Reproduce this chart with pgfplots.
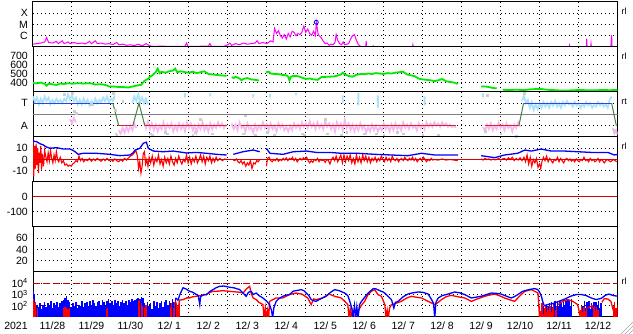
\documentclass[border=0pt]{standalone}
\usepackage{pgfplots}
\pgfplotsset{compat=1.18}
\usepackage{fontspec}
\setmainfont{Liberation Sans}
\definecolor{mag}{RGB}{255,0,255}
\definecolor{grn}{RGB}{0,235,0}
\definecolor{lblue}{RGB}{170,228,250}
\definecolor{lpink}{RGB}{248,184,240}
\definecolor{lgray}{RGB}{205,205,205}
\definecolor{stgreen}{RGB}{70,130,70}
\definecolor{stblue}{RGB}{60,60,230}
\definecolor{stred}{RGB}{210,40,40}
\definecolor{dred}{RGB}{190,0,0}
\newcommand\lbl{\fontsize{10.5}{12}\selectfont}
\begin{document}
\begin{tikzpicture}
\path[use as bounding box] (0pt,0pt) rectangle (633pt,334pt);
\pgfplotsset{
  panel/.style={
    scale only axis, width=584.5pt, height=45pt,
    xmin=0, xmax=15, anchor=north west, at={(33pt,#1)},
    xtick={1,2,...,14}, xticklabels={},
    xmajorgrids, ymajorgrids,
    major grid style={black, line width=1pt, dash pattern=on 1pt off 3pt},
    axis line style={black, line width=1pt},
    tick style={draw=none}, major tick length=0pt,
    yticklabel style={font=\lbl, anchor=east, inner sep=0pt, xshift=-5pt},
    xticklabel style={font=\lbl},
    unbounded coords=jump,
  },
}
% ---------------- Panel 1: X-ray ----------------
\begin{axis}[panel=332pt, ymin=0, ymax=4, ytick={1,2,3}, yticklabels={C,M,X}]
\addplot[mag, line width=1pt] table[row sep=\\]{
0 0.25\\ 0.1 0.3\\ 0.2 0.35\\ 0.3 0.45\\ 0.35 0.85\\ 0.4 0.4\\ 0.5 0.35\\ 0.6 0.5\\ 0.65 0.3\\ 0.75 0.55\\ 0.8 0.3\\ 0.9 0.45\\ 0.95 0.3\\ 1.05 0.4\\ 1.15 0.3\\ 1.25 0.35\\ 1.35 0.28\\ 1.45 0.5\\ 1.5 0.3\\ 1.6 0.55\\ 1.65 0.3\\ 1.75 0.35\\ 1.85 0.25\\ 1.95 0.3\\ 2.05 0.22\\ 2.15 0.4\\ 2.2 0.2\\ 2.3 0.25\\ 2.4 0.15\\ 2.5 0.2\\ 2.6 0.12\\ 2.7 0.25\\ 2.8 0.1\\ 2.9 0.3\\ 3.0 0.1\\ 3.1 0.05\\ 3.3 0.08\\ 3.5 0.05\\ 3.7 0.06\\ 3.9 0.05\\ 3.94 0.35\\ 3.98 0.05\\ 4.2 0.06\\ 4.5 0.08\\ 4.54 0.3\\ 4.58 0.05\\ 4.9 0.06\\ 5.0 0.2\\ 5.05 0.35\\ 5.1 0.15\\ 5.2 0.3\\ 5.3 0.2\\ 5.4 0.35\\ 5.5 0.25\\ 5.6 0.3\\ 5.7 0.35\\ 5.75 0.55\\ 5.8 0.3\\ 5.9 0.4\\ 6.0 0.3\\ 6.1 0.55\\ 6.16 0.45\\ 6.2 1.65\\ 6.25 1.2\\ 6.3 1.45\\ 6.35 1.0\\ 6.4 0.8\\ 6.45 1.1\\ 6.5 0.7\\ 6.55 1.2\\ 6.6 0.9\\ 6.65 1.4\\ 6.7 1.3\\ 6.75 1.0\\ 6.8 1.2\\ 6.85 1.1\\ 6.9 1.3\\ 6.95 1.85\\ 7.0 1.3\\ 7.05 1.6\\ 7.1 1.2\\ 7.15 1.05\\ 7.2 1.4\\ 7.25 1.0\\ 7.27 2.2\\ 7.32 1.1\\ 7.4 0.8\\ 7.45 0.5\\ 7.5 0.3\\ 7.55 0.35\\ 7.6 0.15\\ 7.65 0.25\\ 7.7 0.2\\ 7.75 0.4\\ 7.78 1.1\\ 7.82 0.6\\ 7.87 0.3\\ 7.92 0.2\\ 7.96 0.45\\ 8.0 0.2\\ 8.1 0.3\\ 8.15 0.7\\ 8.2 1.0\\ 8.25 1.1\\ 8.3 0.6\\ 8.35 0.2\\ 8.4 0.1\\ nan nan\\ 8.54 0\\ 8.55 0.55\\ 8.56 0\\ nan nan\\ 8.72 0\\ 8.73 0.1\\ 8.74 0\\ nan nan\\ 9.74 0\\ 9.75 0.2\\ 9.76 0\\ nan nan\\ 13.76 0\\ 13.77 0.15\\ 13.78 0\\ nan nan\\ 14.2 0\\ 14.21 0.75\\ 14.22 0\\ nan nan\\ 14.31 0\\ 14.32 0.3\\ 14.33 0\\ nan nan\\ 14.83 0\\ 14.84 0.6\\ 14.85 1.05\\ 14.86 0\\
};
\addplot[blue, only marks, mark=o, mark size=2pt, mark options={line width=0.8pt}] coordinates {(7.27,2.2)};
\end{axis}
% ---------------- Panel 2: speed ----------------
\begin{axis}[panel=287pt, ymin=300, ymax=800, ytick={400,500,600,700}, yticklabels={400,500,600,700}]
\addplot[grn, line width=1.8pt] table[row sep=\\]{
0 400\\ 0.1 395\\ 0.2 405\\ 0.3 390\\ 0.35 370\\ 0.4 392\\ 0.5 385\\ 0.6 378\\ 0.7 395\\ 0.8 388\\ 0.9 398\\ 1.0 392\\ 1.1 396\\ 1.2 398\\ 1.3 393\\ 1.4 398\\ 1.5 395\\ 1.6 382\\ 1.7 386\\ 1.8 384\\ 1.9 372\\ 1.95 362\\ 2.05 362\\ 2.1 358\\ 2.3 355\\ 2.45 350\\ 2.5 356\\ 2.6 365\\ 2.7 375\\ 2.78 380\\ 2.85 420\\ 2.9 435\\ 2.95 445\\ 3.0 470\\ 3.05 480\\ 3.1 500\\ 3.15 520\\ 3.2 560\\ 3.25 510\\ 3.3 525\\ 3.4 515\\ 3.5 530\\ 3.6 540\\ 3.65 560\\ 3.7 520\\ 3.8 530\\ 3.9 520\\ 4.0 515\\ 4.1 525\\ 4.2 510\\ 4.3 520\\ 4.4 530\\ 4.5 500\\ 4.6 495\\ 4.7 490\\ 4.8 485\\ 4.97 480\\ nan nan\\ 5.1 465\\ 5.15 455\\ 5.2 470\\ 5.3 450\\ 5.35 430\\ 5.4 445\\ 5.5 455\\ 5.6 440\\ 5.7 435\\ 5.8 428\\ nan nan\\ 5.98 520\\ 6.05 525\\ 6.1 505\\ 6.2 500\\ 6.3 498\\ 6.4 490\\ 6.5 485\\ 6.55 470\\ 6.58 430\\ 6.62 470\\ 6.7 480\\ 6.8 475\\ 6.9 460\\ 7.0 445\\ 7.1 450\\ 7.2 440\\ 7.3 435\\ 7.4 465\\ 7.5 468\\ 7.6 470\\ 7.7 472\\ 7.8 480\\ 7.9 495\\ 7.95 515\\ 8.0 495\\ 8.1 478\\ 8.2 470\\ 8.3 490\\ 8.4 500\\ 8.5 498\\ 8.6 505\\ 8.7 500\\ 8.8 510\\ 8.9 505\\ 9.0 500\\ 9.1 510\\ 9.2 505\\ 9.3 515\\ 9.4 520\\ 9.5 525\\ 9.6 495\\ 9.7 485\\ 9.8 475\\ 9.9 448\\ 10.0 440\\ 10.2 430\\ 10.3 420\\ 10.4 430\\ 10.5 445\\ 10.6 420\\ 10.7 412\\ 10.8 405\\ 10.9 390\\ nan nan\\ 11.5 360\\ 11.6 362\\ 11.7 355\\ 11.8 345\\ 11.9 340\\ nan nan\\ 12.05 325\\ 12.2 322\\ 12.4 325\\ 12.6 322\\ 12.8 330\\ 13.0 335\\ 13.2 325\\ 13.4 320\\ 13.6 315\\ 13.8 318\\ 14.0 322\\ 14.2 320\\ 14.4 318\\ 14.6 322\\ 14.8 320\\ 15.0 322\\
};
\end{axis}
% ---------------- Panel 3: T / A ----------------
\begin{axis}[panel=242pt, ymin=0, ymax=4, ytick={1,3}, yticklabels={A,T}]
\addplot[lgray, only marks, mark=square*, mark size=0.9pt] table[row sep=\\]{
2.05 3.9\\ 2.07 3.5\\ 2.1 2.4\\ 2.12 0.3\\ 2.15 0.2\\ 2.3 3.2\\ 3.4 0.4\\ 3.45 0.3\\ 4.1 0.2\\ 4.15 0.4\\ 4.3 1.6\\ 5.4 0.3\\ 5.45 1.9\\ 6.0 0.4\\ 6.2 0.2\\ 6.9 0.3\\ 6.95 0.2\\ 7.5 1.6\\ 7.55 0.3\\ 8.05 0.4\\ 8.5 0.3\\ 9.0 0.2\\ 9.35 0.4\\ 9.5 0.3\\ 10.0 0.2\\ 11.6 0.5\\ 11.65 3.7\\ 12.0 0.3\\ 12.4 0.1\\ 12.6 3.9\\ 14.9 0.6\\ 1.5 2.9\\ 0.8 3.8\\ 1.0 3.9\\ 1.05 2.3\\ 1.1 2.1\\ 3.0 0.3\\ 3.05 0.2\\ 4.6 0.3\\ 5.7 0.2\\ 7.9 0.2\\ 8.8 0.3\\ 10.4 0.2\\
};
\addplot[lblue, line width=1.8pt] table[row sep=\\]{
0.00 3.6\\ 0.05 3.1\\ 0.10 3.5\\ 0.15 2.9\\ 0.20 3.4\\ 0.25 3.0\\ 0.30 3.6\\ 0.35 3.2\\ 0.40 3.5\\ 0.45 2.9\\ 0.50 3.3\\ 0.55 3.0\\ 0.60 3.4\\ 0.65 3.1\\ 0.70 3.3\\ 0.75 3.0\\ 0.80 3.4\\ 0.85 3.2\\ 0.90 3.8\\ 0.95 3.3\\ 1.00 3.7\\ 1.05 3.2\\ 1.10 3.5\\ 1.15 2.9\\ 1.20 3.3\\ 1.25 2.9\\ 1.30 3.4\\ 1.35 3.0\\ 1.40 3.3\\ 1.45 2.8\\ 1.50 3.2\\ 1.55 2.9\\ 1.60 3.4\\ 1.65 3.0\\ 1.70 3.3\\ 1.75 3.1\\ 1.80 3.5\\ 1.85 3.2\\ 1.90 3.6\\ 1.95 3.1\\ 2.00 3.4\\ 2.05 3.2\\ 2.10 3.7\\ nan nan\\
2.55 3.0\\ 2.60 3.6\\ 2.65 3.2\\ 2.70 3.8\\ 2.75 3.1\\ 2.80 3.5\\ 2.85 3.0\\ 2.90 3.4\\ 2.95 2.9\\ nan nan\\
3.9 3.5\\ 3.9 3.9\\ nan nan\\ 4.55 3.6\\ 4.55 3.9\\ nan nan\\ 5.65 3.5\\ 5.65 3.8\\ nan nan\\ 6.08 3.5\\ 6.08 3.8\\ nan nan\\ 6.75 3.7\\ 6.75 3.9\\ nan nan\\ 7.95 3.0\\ 7.95 3.7\\ nan nan\\ 8.35 2.8\\ 8.35 3.9\\ nan nan\\ 8.85 2.6\\ 8.85 3.7\\ nan nan\\ 10.05 2.8\\ 10.05 3.6\\ nan nan\\ 11.55 3.5\\ 11.55 3.9\\ nan nan\\
12.55 3.2\\ 12.60 3.7\\ 12.65 3.0\\ 12.70 3.3\\ 12.75 2.6\\ 12.80 3.1\\ 12.85 2.4\\ 12.90 2.9\\ 12.95 2.5\\ 13.00 3.0\\ 13.05 2.6\\ 13.10 3.1\\ 13.15 2.7\\ 13.20 3.0\\ 13.25 2.6\\ 13.30 3.1\\ 13.35 2.8\\ 13.40 3.2\\ 13.45 2.7\\ 13.50 3.0\\ 13.55 2.6\\ 13.60 3.1\\ 13.65 2.8\\ 13.70 3.2\\ 13.75 2.9\\ 13.80 3.0\\ 13.85 2.7\\ 13.90 3.1\\ 13.95 2.8\\ 14.00 3.0\\ 14.05 2.6\\ 14.10 2.9\\ 14.15 2.7\\ 14.20 3.1\\ 14.25 2.8\\ 14.30 3.0\\ 14.35 2.6\\ 14.40 2.9\\ 14.45 2.7\\ 14.50 3.1\\ 14.55 2.8\\ 14.60 3.0\\ 14.65 2.7\\ 14.70 2.9\\ 14.75 2.6\\ 14.80 3.3\\ 14.85 3.6\\
};
\addplot[lpink, line width=1.8pt] table[row sep=\\]{
0.95 1.6\\ 1.0 1.2\\ 1.05 1.7\\ 1.1 1.3\\ nan nan\\
2.20 0.6\\ 2.25 0.3\\ 2.30 0.8\\ 2.35 0.4\\ 2.40 0.9\\ 2.45 0.5\\ 2.50 1.0\\ 2.55 0.6\\ 2.60 1.2\\ 2.65 0.8\\ nan nan\\
2.85 1.3\\ 2.9 0.8\\ 2.95 1.4\\ 3.0 0.7\\ 3.05 1.2\\ 3.1 0.6\\ 3.15 1.1\\ 3.2 0.5\\ 3.25 1.0\\ 3.3 0.7\\ 3.35 1.3\\ 3.4 0.6\\ 3.45 1.1\\ 3.5 0.8\\ 3.55 1.2\\ 3.6 0.5\\ 3.65 1.0\\ 3.7 0.6\\ 3.75 1.2\\ 3.8 0.7\\ 3.85 1.1\\ 3.9 0.5\\ 3.95 1.3\\ 4.0 0.8\\ 4.05 1.2\\ 4.1 0.6\\ 4.15 1.0\\ 4.2 0.4\\ 4.25 1.1\\ 4.3 0.7\\ 4.35 1.3\\ 4.4 0.6\\ 4.45 1.0\\ 4.5 0.5\\ 4.55 1.2\\ 4.6 0.7\\ 4.65 1.1\\ 4.7 0.8\\ 4.75 1.3\\ 4.8 0.9\\ 4.85 1.2\\ 4.9 0.8\\ 4.95 1.1\\ nan nan\\
5.10 1.2\\ 5.15 0.7\\ 5.20 1.1\\ 5.25 0.6\\ 5.30 1.3\\ 5.35 0.8\\ 5.40 1.0\\ 5.45 0.5\\ 5.50 1.2\\ 5.55 0.7\\ 5.60 0.9\\ 5.65 0.4\\ 5.70 1.1\\ 5.75 0.6\\ 5.80 1.0\\ 5.85 0.7\\ 5.90 1.3\\ 5.95 0.8\\ 6.00 1.1\\ 6.05 0.6\\ 6.10 1.2\\ 6.15 0.7\\ 6.20 1.0\\ 6.25 0.5\\ 6.30 1.2\\ 6.35 0.8\\ 6.40 1.1\\ 6.45 0.6\\ 6.50 0.9\\ 6.55 0.5\\ 6.60 1.0\\ 6.65 0.6\\ 6.70 1.2\\ 6.75 0.8\\ 6.80 1.1\\ 6.85 0.7\\ 6.90 1.3\\ 6.95 0.9\\ 7.00 1.2\\ 7.05 0.8\\ 7.10 1.4\\ 7.15 0.9\\ 7.20 1.2\\ 7.25 0.7\\ 7.30 1.3\\ 7.35 0.8\\ 7.40 1.1\\ 7.45 0.7\\ 7.50 1.4\\ 7.55 0.9\\ 7.60 1.2\\ 7.65 0.7\\ 7.70 1.1\\ 7.75 0.5\\ 7.80 1.3\\ 7.85 0.8\\ 7.90 1.2\\ 7.95 0.6\\ 8.00 1.5\\ 8.05 0.8\\ 8.10 1.2\\ 8.15 0.6\\ 8.20 1.1\\ 8.25 0.5\\ 8.30 1.0\\ 8.35 0.6\\ 8.40 1.2\\ 8.45 0.7\\ 8.50 1.0\\ 8.55 0.4\\ 8.60 0.9\\ 8.65 0.5\\ 8.70 1.1\\ 8.75 0.6\\ 8.80 1.0\\ 8.85 0.5\\ 8.90 0.9\\ 8.95 0.6\\ 9.00 1.2\\ 9.05 0.7\\ 9.10 1.0\\ 9.15 0.5\\ 9.20 1.1\\ 9.25 0.6\\ 9.30 1.2\\ 9.35 0.7\\ 9.40 1.0\\ 9.45 0.6\\ 9.50 1.3\\ 9.55 0.8\\ 9.60 1.1\\ 9.65 0.7\\ 9.70 1.2\\ 9.75 0.8\\ 9.80 1.0\\ 9.85 0.6\\ 9.90 1.2\\ 9.95 0.8\\ 10.00 1.1\\ 10.05 0.7\\ 10.10 1.3\\ 10.15 0.9\\ 10.20 1.2\\ 10.25 0.9\\ 10.30 1.3\\ 10.35 1.0\\ 10.40 1.2\\ 10.45 0.9\\ 10.50 1.3\\ 10.55 1.0\\ 10.60 1.2\\ 10.65 0.9\\ 10.70 1.1\\ 10.75 0.9\\ 10.80 1.0\\ 10.85 0.8\\ nan nan\\
11.55 0.9\\ 11.60 0.5\\ 11.65 1.1\\ 11.70 0.7\\ 11.75 1.2\\ 11.80 0.6\\ 11.85 1.0\\ 11.90 0.7\\ 11.95 1.3\\ 12.00 0.8\\ 12.05 1.1\\ 12.10 0.6\\ 12.15 1.2\\ 12.20 0.8\\ 12.25 1.0\\ 12.30 0.5\\ 12.35 1.1\\ 12.40 0.8\\ 12.45 1.3\\ 12.50 0.9\\ nan nan\\
14.88 0.8\\ 14.92 0.3\\ 14.96 0.6\\ 15.0 0.2\\
};
\addplot[gray, line width=1pt] coordinates {(0,2) (15,2)};
\addplot[stblue, line width=1pt] coordinates {(0,3) (2.05,3) (nan,nan) (12.59,3) (14.85,3)};
\addplot[stgreen, line width=1pt] coordinates {(2.05,3) (2.2,1) (nan,nan) (2.56,1) (2.72,3) (2.87,1) (nan,nan) (12.47,1) (12.59,3) (nan,nan) (14.85,3) (14.97,1)};
\addplot[stred, line width=1pt] coordinates {(2.2,1) (2.56,1) (nan,nan) (2.87,1) (4.98,1) (nan,nan) (5.33,1) (10.86,1) (nan,nan) (11.59,1) (12.47,1)};
\end{axis}
% ---------------- Panel 4: Bz / Bt ----------------
\begin{axis}[panel=197pt, ymin=-20, ymax=20, ytick={-10,0,10}, yticklabels={-10,0,10}]
\addplot[red, line width=1.1pt] table[row sep=\\]{
0.00 17\\ 0.02 -15\\ 0.04 12\\ 0.06 -8\\ 0.08 14\\ 0.10 -5\\ 0.12 10\\ 0.14 -12\\ 0.16 6\\ 0.18 -3\\ 0.20 12\\ 0.22 -9\\ 0.24 5\\ 0.27 -6\\ 0.30 8\\ 0.33 2\\ 0.36 -2\\ 0.39 6\\ 0.42 -1\\ 0.45 8\\ 0.48 1\\ 0.51 -3\\ 0.54 4\\ 0.57 -1\\ 0.60 7\\ 0.63 0\\ 0.66 -2\\ 0.70 2\\ 0.74 -3\\ 0.78 -1\\ 0.82 -5\\ 0.86 -4\\ 0.90 -6\\ 0.94 -5\\ 0.98 -6\\ 1.02 -4\\ 1.06 -3\\ 1.10 -1\\ 1.14 -2\\ 1.18 3\\ 1.22 -1\\ 1.26 1\\ 1.30 -2\\ 1.35 0\\ 1.40 -1\\ 1.45 1\\ 1.50 -1.5\\ 1.55 0.5\\ 1.60 -1\\ 1.65 1\\ 1.70 -0.5\\ 1.75 -1.5\\ 1.80 0.5\\ 1.85 -1\\ 1.90 1\\ 1.95 -1\\ 2.00 0\\ 2.05 -1.5\\ 2.10 0.5\\ 2.15 -1\\ 2.20 -2\\ 2.25 0\\ 2.30 -1.5\\ 2.35 1\\ 2.40 -0.5\\ 2.45 1.5\\ 2.50 3\\ 2.55 4\\ 2.60 6\\ 2.64 8\\ 2.68 3\\ 2.71 -8\\ 2.74 -2\\ 2.77 -12\\ 2.80 -6\\ 2.83 5\\ 2.86 7\\ 2.89 -4\\ 2.92 0\\ 2.95 -6\\ 2.98 2\\ 3.02 -3\\ 3.06 3\\ 3.10 -5\\ 3.14 1\\ 3.18 -2\\ 3.22 4\\ 3.26 -4\\ 3.30 0\\ 3.34 -6\\ 3.38 2\\ 3.42 -3\\ 3.46 1\\ 3.50 -4\\ 3.54 3\\ 3.58 -2\\ 3.62 -5\\ 3.66 1\\ 3.70 -3\\ 3.74 3\\ 3.78 -1\\ 3.82 -4\\ 3.86 0\\ 3.90 -2\\ 3.94 4\\ 3.98 -3\\ 4.02 2\\ 4.06 -4\\ 4.10 1\\ 4.14 -2\\ 4.18 3\\ 4.22 -3\\ 4.26 0\\ 4.30 4\\ 4.34 -2\\ 4.38 3\\ 4.42 -4\\ 4.46 2\\ 4.50 -1\\ 4.54 3\\ 4.58 -3\\ 4.62 1\\ 4.66 -2\\ 4.70 2\\ 4.74 -1\\ 4.80 1\\ 4.86 -1\\ 4.92 0.5\\ 4.97 0\\ nan nan\\
5.14 -0.5\\ 5.18 -1\\ 5.22 0.5\\ 5.26 -2\\ 5.30 -3\\ 5.34 -1\\ 5.38 -4\\ 5.42 -2\\ 5.46 -6\\ 5.50 -3\\ 5.54 -5\\ 5.58 -1\\ 5.62 -8\\ 5.66 -3\\ 5.70 -4\\ 5.74 -1\\ 5.78 -2\\ 5.82 0\\ nan nan\\
5.99 -6\\ 6.02 1\\ 6.06 2\\ 6.10 -1\\ 6.14 -2\\ 6.18 0\\ 6.22 -1\\ 6.26 1\\ 6.30 -1.5\\ 6.34 0\\ 6.38 -1\\ 6.42 1\\ 6.46 -0.5\\ 6.50 1.5\\ 6.54 -1\\ 6.58 1\\ 6.62 0\\ 6.66 2\\ 6.70 -1\\ 6.74 1\\ 6.78 -2\\ 6.82 0\\ 6.86 1\\ 6.90 -0.5\\ 6.94 1.5\\ 6.98 0\\ 7.02 2\\ 7.06 -1\\ 7.10 -3\\ 7.14 -1\\ 7.18 -2.5\\ 7.22 0\\ 7.26 -1\\ 7.30 1\\ 7.34 -2\\ 7.38 0\\ 7.42 -1\\ 7.46 -0.5\\ 7.50 -2.5\\ 7.54 0\\ 7.58 -1\\ 7.62 -4\\ 7.66 0\\ 7.70 2\\ 7.74 -1\\ 7.78 3\\ 7.82 -2\\ 7.86 1\\ 7.90 4\\ 7.94 -3\\ 7.98 4\\ 8.02 -2\\ 8.06 3\\ 8.10 -1\\ 8.14 4\\ 8.18 -3\\ 8.22 1\\ 8.26 -4\\ 8.30 4\\ 8.34 -2\\ 8.38 2\\ 8.42 -3\\ 8.46 4\\ 8.50 -1\\ 8.54 3\\ 8.58 -2\\ 8.62 2\\ 8.66 -3\\ 8.70 1\\ 8.74 -1\\ 8.78 2\\ 8.82 -2\\ 8.86 1\\ 8.90 -1\\ 8.94 3\\ 8.98 0\\ 9.02 -2\\ 9.06 2\\ 9.10 -1\\ 9.14 1\\ 9.18 -2\\ 9.22 3\\ 9.26 0\\ 9.30 -1\\ 9.34 1\\ 9.38 -2\\ 9.42 0\\ 9.46 1\\ 9.50 -1\\ 9.54 2\\ 9.58 0\\ 9.62 -1\\ 9.66 1\\ 9.70 -0.5\\ 9.74 2\\ 9.78 -1\\ 9.82 1\\ 9.86 -2\\ 9.90 0\\ 9.94 1\\ 9.98 -1\\ 10.02 2\\ 10.06 0\\ 10.10 -2\\ 10.14 0\\ 10.18 -1\\ 10.22 1\\ 10.26 -0.5\\ 10.30 0\\ 10.40 -0.5\\ 10.50 0.5\\ 10.60 -0.5\\ 10.70 0\\ 10.80 -0.5\\ 10.90 -1\\ nan nan\\
11.50 0.5\\ 11.55 -0.5\\ 11.60 1\\ 11.65 0\\ 11.70 0.5\\ 11.75 -0.5\\ 11.80 0.3\\ 11.85 -0.3\\ 11.90 0\\ 11.95 1\\ 12.00 -0.5\\ 12.05 0.5\\ 12.10 1\\ 12.15 -0.5\\ 12.20 1.5\\ 12.25 0\\ 12.30 2\\ 12.35 -1\\ 12.40 1\\ 12.45 -0.5\\ 12.50 1.5\\ 12.55 -1\\ 12.60 2\\ 12.64 -2\\ 12.68 4\\ 12.72 -4\\ 12.76 2\\ 12.80 -6\\ 12.84 0\\ 12.88 -3\\ 12.92 1\\ 12.96 -7\\ 13.00 -4\\ 13.03 -8\\ 13.06 -2\\ 13.10 2\\ 13.14 -1\\ 13.18 3\\ 13.22 -2\\ 13.26 1\\ 13.30 -1\\ 13.34 -3\\ 13.38 0\\ 13.42 -1\\ 13.46 2\\ 13.50 -2\\ 13.54 1\\ 13.58 -1\\ 13.62 -3\\ 13.66 0\\ 13.70 1\\ 13.74 -1\\ 13.78 0.5\\ 13.82 -1.5\\ 13.86 0\\ 13.90 -2\\ 13.94 0.5\\ 13.98 -1\\ 14.02 -2\\ 14.06 0\\ 14.10 -1\\ 14.14 2\\ 14.18 -1\\ 14.22 0\\ 14.26 -2\\ 14.30 1\\ 14.34 -1\\ 14.38 0\\ 14.42 -2\\ 14.46 -1\\ 14.50 1\\ 14.54 -2\\ 14.58 0\\ 14.62 -1\\ 14.66 -3\\ 14.70 -1\\ 14.74 0\\ 14.78 -1\\ 14.82 -2\\ 14.86 -1\\ 14.90 0\\ 14.94 -1\\ 14.98 -2\\
};
\addplot[red!85!black, line width=1pt] coordinates {(0,0) (15,0)};
\addplot[blue, line width=1.3pt] table[row sep=\\]{
0 17.3\\ 0.03 16\\ 0.09 15.9\\ 0.18 14\\ 0.26 13\\ 0.35 11\\ 0.44 10\\ 0.61 10.5\\ 0.78 9.3\\ 0.95 9.3\\ 1.03 8\\ 1.08 6.9\\ 1.16 4.6\\ 1.29 5.5\\ 1.63 5.5\\ 1.97 4.6\\ 2.23 3.4\\ 2.49 4.0\\ 2.57 6\\ 2.62 8.4\\ 2.74 9.9\\ 2.83 14.4\\ 2.91 15.4\\ 2.96 9.9\\ 3.09 7.5\\ 3.34 6.9\\ 3.6 7.5\\ 3.94 5.8\\ 4.2 6.3\\ 4.45 5.5\\ 4.71 4.6\\ 4.97 4.0\\ nan nan\\ 5.14 4.6\\ 5.39 6.9\\ 5.65 8.4\\ 5.82 6.9\\ nan nan\\ 5.99 9.9\\ 6.08 5.5\\ 6.42 4.6\\ 6.68 6.9\\ 7.02 7.5\\ 7.27 6.3\\ 7.62 6.3\\ 7.91 5.5\\ 8.34 5.5\\ 8.77 4.6\\ 9.2 4.0\\ 9.62 3.4\\ 9.97 5.5\\ 10.31 4.0\\ 10.91 4.0\\ nan nan\\ 11.5 3.4\\ 11.85 1.6\\ 12.1 4.0\\ 12.44 5.5\\ 12.62 8.4\\ 12.79 7.5\\ 13.04 9.3\\ 13.3 7.5\\ 13.64 7.5\\ 13.98 6.9\\ 14.32 6.3\\ 14.75 6.3\\ 14.92 4.0\\ 15.0 4.5\\
};
\end{axis}
% ---------------- Panel 5 ----------------
\begin{axis}[panel=152pt, ymin=-200, ymax=100, ytick={-100,0}, yticklabels={-100,0}]
\addplot[red!85!black, line width=1pt] coordinates {(0,0) (15,0)};
\end{axis}
% ---------------- Panel 6 ----------------
\begin{axis}[panel=107pt, ymin=0, ymax=80, ytick={20,40,60}, yticklabels={20,40,60}]
\end{axis}
% ---------------- Panel 7: particle flux ----------------
\begin{axis}[panel=62pt, ymin=1, ymax=5, ytick={2,3,4},
  yticklabels={10\textsuperscript{2},10\textsuperscript{3},10\textsuperscript{4}},
  xtick={1,2,...,15},
  xticklabels={11/28,11/29,11/30,12/ 1,12/ 2,12/ 3,12/ 4,12/ 5,12/ 6,12/ 7,12/ 8,12/ 9,12/10,12/11,12/12},
  xticklabel style={font=\lbl, anchor=base, inner sep=0pt, yshift=-12.7pt, xshift=-19.48pt}]
\addplot[blue, ycomb, line width=1.6pt] table[row sep=\\]{
0.00 3.3\\ 0.02 3.0\\ 0.04 2.6\\ 0.06 2.2\\ 0.08 1.8\\ 0.10 2.1\\ 0.14 1.9\\ 0.18 2.2\\ 0.22 1.7\\ 0.26 2.1\\ 0.30 2.3\\ 0.34 1.9\\ 0.38 2.2\\ 0.42 2.0\\ 0.46 2.4\\ 0.50 1.8\\ 0.54 2.2\\ 0.58 2.1\\ 0.62 2.3\\ 0.66 1.9\\ 0.70 2.2\\ 0.74 2.4\\ 0.78 2.5\\ 0.82 2.7\\ 0.86 2.85\\ 0.90 2.5\\ 0.94 2.3\\ 0.98 1.9\\ 1.02 2.2\\ 1.06 2.0\\ 1.10 2.3\\ 1.14 1.8\\ 1.18 2.1\\ 1.22 2.0\\ 1.26 2.4\\ 1.30 1.9\\ 1.34 2.2\\ 1.38 2.3\\ 1.42 2.0\\ 1.46 2.4\\ 1.50 2.1\\ 1.54 2.5\\ 1.58 2.2\\ 1.62 2.0\\ 1.66 2.3\\ 1.70 2.4\\ 1.74 2.1\\ 1.78 2.5\\ 1.82 2.3\\ 1.86 2.0\\ 1.90 2.4\\ 1.94 2.6\\ 1.98 2.2\\ 2.02 2.4\\ 2.06 2.1\\ 2.10 2.5\\ 2.14 2.2\\ 2.18 2.4\\ 2.22 2.0\\ 2.26 2.3\\ 2.30 2.5\\ 2.34 2.2\\ 2.38 2.4\\ 2.42 2.1\\ 2.46 2.5\\ 2.50 2.3\\ 2.54 2.6\\ 2.58 2.4\\ 2.62 2.5\\ 2.66 2.6\\ 2.70 2.7\\ 2.74 2.6\\ 2.78 2.75\\ 2.82 2.7\\ 2.86 2.2\\ 2.90 1.9\\ 2.94 2.3\\ 2.98 2.0\\ 3.02 2.2\\ 3.06 1.7\\ 3.10 2.4\\ 3.14 2.0\\ 3.18 2.3\\ 3.22 1.8\\ 3.26 2.2\\ 3.30 2.4\\ 3.34 1.9\\ 3.38 2.3\\ 3.42 2.5\\ 3.46 2.1\\ 3.50 2.4\\ 3.54 2.2\\ 3.58 2.6\\ 3.62 2.3\\ 3.66 2.7\\
13.10 2.0\\ 13.13 1.6\\ 13.16 2.1\\ 13.19 1.5\\ 13.22 2.0\\ 13.25 2.2\\ 13.28 1.7\\ 13.31 2.3\\ 13.34 1.9\\ 13.37 2.2\\ 13.40 2.4\\ 13.43 1.8\\ 13.46 2.3\\ 13.49 2.0\\ 13.52 2.4\\ 13.55 2.2\\ 13.58 1.9\\ 13.61 2.5\\ 13.64 2.1\\ 13.67 2.4\\ 13.70 2.6\\ 13.73 2.2\\ 13.76 2.5\\ 13.79 2.0\\ 13.82 2.6\\
14.12 2.0\\ 14.15 2.4\\ 14.18 1.8\\ 14.21 2.3\\ 14.24 2.1\\ 14.27 2.4\\ 14.30 1.7\\ 14.33 2.2\\ 14.36 2.0\\ 14.39 2.3\\ 14.42 1.9\\ 14.45 2.3\\ 14.48 2.1\\ 14.51 2.4\\ 14.54 1.8\\ 14.57 2.2\\
};
\addplot[red, ycomb, line width=1.2pt] table[row sep=\\]{
0.01 2.6\\ 0.03 2.2\\ 0.05 1.9\\ 0.07 2.3\\ 0.11 1.8\\ 0.78 1.8\\ 0.82 1.9\\ 0.86 1.8\\ 0.90 1.7\\ 0.94 1.8\\ 1.88 1.7\\ 1.92 1.8\\ 2.70 2.4\\ 2.74 2.5\\ 2.78 2.2\\ 2.82 2.0\\ 2.86 1.8\\ 2.90 2.1\\ 3.52 1.9\\ 3.56 2.2\\ 3.60 1.8\\ 3.64 2.3\\ 3.68 2.0\\ 3.72 1.5\\ 3.76 2.3\\
13.0 2.0\\ 13.03 1.5\\ 13.06 2.2\\ 13.09 1.3\\ 13.12 1.8\\ 13.15 2.1\\ 13.18 1.4\\ 13.21 1.9\\ 13.24 1.6\\ 13.27 2.0\\ 13.3 1.4\\ 13.33 1.8\\ 13.36 2.1\\ 13.4 1.6\\ 13.44 2.0\\
14.05 1.6\\ 14.08 2.0\\ 14.11 1.4\\ 14.14 1.9\\ 14.17 1.5\\ 14.2 1.8\\ 14.38 1.7\\ 14.41 2.0\\ 14.44 1.5\\ 14.47 1.9\\ 14.5 1.6\\ 14.9 2.0\\ 14.93 2.3\\ 14.96 1.8\\ 14.99 2.1\\
};
\addplot[dred, line width=1pt, dash pattern=on 7pt off 3pt] coordinates {(0,4) (15,4)};
\addplot[red, line width=1.3pt] table[row sep=\\]{
3.66 2.39\\ 3.72 1.5\\ 3.76 2.5\\ 3.85 2.54\\ 3.95 2.7\\ 4.02 2.7\\ 4.1 2.8\\ 4.19 2.84\\ 4.3 2.9\\ 4.45 2.99\\ 4.55 3.2\\ 4.62 3.28\\ 4.75 3.3\\ 4.87 3.34\\ 5.05 3.28\\ 5.15 3.25\\ 5.3 3.2\\ 5.39 3.13\\ 5.48 3.5\\ 5.56 3.73\\ 5.6 3.1\\ 5.65 2.69\\ 5.73 2.54\\ 5.8 2.3\\ 5.9 2.1\\ 5.93 0.9\\ 5.96 1.8\\ 5.99 0.9\\ 6.02 1.6\\ 6.05 0.9\\ 6.07 2.39\\ 6.24 2.69\\ 6.41 2.69\\ 6.58 2.99\\ 6.75 3.13\\ 6.9 3.04\\ 7.05 2.69\\ 7.14 2.10\\ 7.2 2.6\\ 7.27 2.54\\ 7.43 2.7\\ 7.6 3.04\\ 7.74 2.84\\ 7.91 2.69\\ 8.0 2.39\\ 8.08 2.1\\ 8.11 0.9\\ 8.14 1.7\\ 8.17 0.9\\ 8.2 1.5\\ 8.23 0.9\\ 8.34 1.5\\ 8.42 2.0\\ 8.51 2.39\\ 8.6 3.0\\ 8.68 3.28\\ 8.77 3.43\\ 8.85 3.0\\ 8.94 2.84\\ 9.03 2.1\\ 9.06 0.9\\ 9.09 1.6\\ 9.12 0.9\\ 9.15 1.8\\ 9.2 2.1\\ 9.3 2.2\\ 9.45 2.39\\ 9.6 2.7\\ 9.71 2.84\\ 9.85 2.75\\ 9.97 2.69\\ 10.14 2.39\\ 10.31 2.1\\ 10.4 2.3\\ 10.48 2.54\\ 10.6 2.8\\ 10.73 2.93\\ 10.9 2.8\\ 11.08 2.69\\ 11.25 2.39\\ 11.4 2.6\\ 11.59 2.84\\ 11.72 2.95\\ 11.85 3.04\\ 12.0 2.85\\ 12.1 2.69\\ 12.36 2.39\\ 12.5 2.9\\ 12.62 3.28\\ 12.79 3.43\\ 12.96 3.13\\ 13.0 0.9\\ nan nan\\ 13.47 2.1\\ 13.6 2.4\\ 13.73 2.54\\ 13.85 2.4\\ 13.98 2.1\\ 14.05 0.9\\ nan nan\\ 14.23 1.8\\ 14.35 2.0\\ 14.49 0.9\\ nan nan\\ 14.6 2.3\\ 14.66 2.63\\ 14.75 2.6\\ 14.83 2.39\\ 14.9 1.5\\ 14.93 0.9\\
};
\addplot[blue, line width=1.3pt] table[row sep=\\]{
3.66 2.7\\ 3.72 2.5\\ 3.77 3.0\\ 3.85 3.6\\ 3.92 3.5\\ 4.02 3.28\\ 4.1 3.2\\ 4.19 3.0\\ 4.24 2.9\\ 4.28 2.1\\ 4.3 2.8\\ 4.38 3.0\\ 4.45 2.99\\ 4.55 3.3\\ 4.62 3.43\\ 4.7 3.6\\ 4.79 3.73\\ 4.9 3.75\\ 5.05 3.64\\ 5.15 3.6\\ 5.22 3.52\\ 5.3 3.45\\ 5.39 3.13\\ 5.47 2.84\\ 5.53 3.2\\ 5.6 3.28\\ 5.65 3.0\\ 5.73 3.13\\ 5.8 2.9\\ 5.9 2.69\\ 6.0 2.4\\ 6.07 2.1\\ 6.12 1.6\\ 6.15 0.9\\ 6.18 1.8\\ 6.24 2.39\\ 6.3 2.6\\ 6.41 2.84\\ 6.5 2.95\\ 6.58 2.99\\ 6.68 3.3\\ 6.75 3.34\\ 6.88 3.43\\ 6.95 3.35\\ 7.01 3.13\\ 7.08 2.9\\ 7.14 2.54\\ 7.2 2.45\\ 7.26 2.39\\ 7.35 2.55\\ 7.43 2.69\\ 7.52 2.84\\ 7.6 3.1\\ 7.74 3.43\\ 7.85 3.35\\ 8.0 3.13\\ 8.08 2.9\\ 8.13 2.39\\ 8.18 1.8\\ 8.21 0.9\\ 8.25 2.0\\ 8.28 0.9\\ 8.31 1.9\\ 8.34 0.9\\ 8.38 2.1\\ 8.43 2.39\\ 8.5 2.7\\ 8.6 3.13\\ 8.73 3.52\\ 8.8 3.5\\ 8.9 3.34\\ 9.0 3.2\\ 9.07 2.99\\ 9.15 2.7\\ 9.2 2.54\\ 9.26 1.8\\ 9.3 2.3\\ 9.37 2.39\\ 9.5 2.8\\ 9.62 3.04\\ 9.75 3.15\\ 9.88 3.22\\ 10.0 3.2\\ 10.14 3.04\\ 10.23 2.54\\ 10.28 2.2\\ 10.31 0.9\\ 10.34 2.3\\ 10.4 2.69\\ 10.5 2.9\\ 10.65 3.04\\ 10.82 3.22\\ 10.95 3.15\\ 11.08 2.99\\ 11.25 2.69\\ 11.35 2.75\\ 11.5 2.84\\ 11.6 2.95\\ 11.76 3.13\\ 11.9 3.1\\ 12.01 3.04\\ 12.15 2.85\\ 12.27 2.69\\ 12.35 2.8\\ 12.44 2.99\\ 12.55 3.25\\ 12.62 3.34\\ 12.75 3.45\\ 12.87 3.52\\ 12.95 3.45\\ 13.0 3.22\\ 13.05 2.8\\ 13.08 2.39\\ 13.12 2.0\\ 13.2 2.1\\ 13.35 2.2\\ 13.5 2.4\\ 13.65 2.6\\ 13.8 2.85\\ 13.95 3.0\\ 14.07 3.0\\ 14.2 2.9\\ 14.32 2.7\\ 14.45 2.55\\ 14.58 2.65\\ 14.7 2.95\\ 14.78 3.04\\ 14.9 2.9\\ 15.0 2.85\\
};
\end{axis}
\node[font=\lbl, anchor=base] at (16pt,4.3pt) {2021};
\node[font=\fontsize{9}{9}\selectfont] at (624pt,322.3pt) {rl};
\node[font=\fontsize{9}{9}\selectfont] at (624pt,278pt) {rl};
\node[font=\fontsize{9}{9}\selectfont] at (624pt,232.3pt) {rt};
\node[font=\fontsize{9}{9}\selectfont] at (624pt,187.3pt) {rl};
\node[font=\fontsize{9}{9}\selectfont] at (624pt,52.3pt) {rl};
\draw[gray!70] (621pt,0pt) -- (633pt,12pt) (625pt,0pt) -- (633pt,8pt) (629pt,0pt) -- (633pt,4pt);
\end{tikzpicture}
\end{document}
